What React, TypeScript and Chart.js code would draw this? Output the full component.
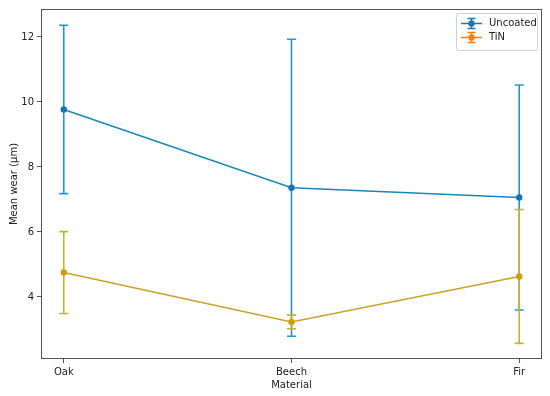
import React, { useEffect, useRef } from 'react';
import { Chart, registerables } from 'chart.js';

Chart.register(...registerables);

const categories = ['Oak', 'Beech', 'Fir'];
const seriesNames = ['Uncoated', 'TiN'];
const uncoatedMean = [9.77, 7.36, 7.06];
const uncoatedErr = [2.59, 4.57, 3.46];
const tinMean = [4.75, 3.23, 4.63];
const tinErr = [1.26, 0.21, 2.06];
const yTicks = [4, 6, 8, 10, 12];

const FONT = "'DejaVu Sans', sans-serif";

const styles = {
  uncoated: { line: '#1a88b6', err: '#2596c4', point: '#1a72b6', legend: '#1f77b4' },
  tin: { line: '#c9a227', err: '#c2b237', point: '#c9a012', legend: '#ff7f0e' },
};

const errorBarPlugin = {
  id: 'errbars',
  beforeDatasetsDraw(chart: any) {
    const { ctx, scales } = chart;
    const x = scales.x, y = scales.y;
    const draw = (means: number[], errs: number[], color: string) => {
      ctx.save();
      ctx.strokeStyle = color;
      ctx.lineWidth = 1.6;
      means.forEach((m, i) => {
        const px = x.getPixelForValue(i);
        const top = y.getPixelForValue(m + errs[i]);
        const bot = y.getPixelForValue(m - errs[i]);
        ctx.beginPath();
        ctx.moveTo(px, top);
        ctx.lineTo(px, bot);
        ctx.moveTo(px - 4.5, top);
        ctx.lineTo(px + 4.5, top);
        ctx.moveTo(px - 4.5, bot);
        ctx.lineTo(px + 4.5, bot);
        ctx.stroke();
      });
      ctx.restore();
    };
    draw(uncoatedMean, uncoatedErr, styles.uncoated.err);
    draw(tinMean, tinErr, styles.tin.err);
  },
  afterDraw(chart: any) {
    const { ctx, chartArea } = chart;
    ctx.save();
    ctx.strokeStyle = '#555';
    ctx.lineWidth = 1;
    ctx.strokeRect(
      Math.round(chartArea.left) + 0.5,
      Math.round(chartArea.top) + 0.5,
      Math.round(chartArea.right - chartArea.left) - 1,
      Math.round(chartArea.bottom - chartArea.top) - 1
    );
    // legend
    const bx = 456.5, by = 13.5, bw = 81, bh = 37;
    ctx.fillStyle = 'rgba(255,255,255,0.9)';
    ctx.strokeStyle = '#d0d0d0';
    ctx.beginPath();
    (ctx as any).roundRect ? ctx.roundRect(bx, by, bw, bh, 2) : ctx.rect(bx, by, bw, bh);
    ctx.fill();
    ctx.stroke();
    const entries = [
      { name: seriesNames[0], color: styles.uncoated.legend },
      { name: seriesNames[1], color: styles.tin.legend },
    ];
    entries.forEach((e, i) => {
      const cy = 23.5 + i * 14;
      const x0 = 461, x1 = 482, xm = 471.5;
      ctx.strokeStyle = e.color;
      ctx.lineWidth = 1.5;
      ctx.beginPath();
      ctx.moveTo(x0, cy);
      ctx.lineTo(x1, cy);
      ctx.moveTo(xm, cy - 5);
      ctx.lineTo(xm, cy + 5);
      ctx.moveTo(xm - 4, cy - 5);
      ctx.lineTo(xm + 4, cy - 5);
      ctx.moveTo(xm - 4, cy + 5);
      ctx.lineTo(xm + 4, cy + 5);
      ctx.stroke();
      ctx.fillStyle = e.color;
      ctx.beginPath();
      ctx.arc(xm, cy, 3.2, 0, Math.PI * 2);
      ctx.fill();
      ctx.fillStyle = '#222';
      ctx.font = `10px ${FONT}`;
      ctx.textBaseline = 'middle';
      ctx.textAlign = 'left';
      ctx.fillText(e.name, 489, cy);
    });
    ctx.restore();
  },
};

export default function App() {
  const ref = useRef<HTMLCanvasElement>(null);
  useEffect(() => {
    if (!ref.current) return;
    const chart = new Chart(ref.current, {
      type: 'line',
      data: {
        datasets: [
          {
            label: seriesNames[0],
            data: uncoatedMean.map((v, i) => ({ x: i, y: v })),
            borderColor: styles.uncoated.line,
            backgroundColor: styles.uncoated.point,
            pointBackgroundColor: styles.uncoated.point,
            pointBorderColor: styles.uncoated.point,
            pointRadius: 3.2,
            pointBorderWidth: 0,
            borderWidth: 1.5,
            tension: 0,
          },
          {
            label: seriesNames[1],
            data: tinMean.map((v, i) => ({ x: i, y: v })),
            borderColor: styles.tin.line,
            backgroundColor: styles.tin.point,
            pointBackgroundColor: styles.tin.point,
            pointBorderColor: styles.tin.point,
            pointRadius: 3.2,
            pointBorderWidth: 0,
            borderWidth: 1.5,
            tension: 0,
          },
        ],
      },
      options: {
        responsive: false,
        animation: false,
        events: [],
        layout: { padding: { top: 9, right: 8, left: 0, bottom: 0 } },
        plugins: { legend: { display: false }, tooltip: { enabled: false } },
        scales: {
          x: {
            type: 'linear',
            min: -0.1,
            max: 2.1,
            afterBuildTicks: (s: any) => {
              s.ticks = categories.map((_, i) => ({ value: i }));
            },
            afterFit: (s: any) => {
              s.height = 37;
            },
            ticks: {
              callback: (v: any) => categories[Math.round(Number(v))] ?? '',
              color: '#222',
              font: { family: FONT, size: 10 },
              padding: 3,
              maxRotation: 0,
            },
            grid: { drawOnChartArea: false, drawTicks: true, tickLength: 4, color: '#555' },
            border: { display: false },
            title: {
              display: true,
              text: 'Material',
              color: '#222',
              font: { family: FONT, size: 10 },
              padding: { top: 0, bottom: 5 },
            },
          },
          y: {
            type: 'linear',
            min: 2.09,
            max: 12.86,
            afterBuildTicks: (s: any) => {
              s.ticks = yTicks.map((v) => ({ value: v }));
            },
            afterFit: (s: any) => {
              s.width = 41;
            },
            ticks: {
              color: '#222',
              font: { family: FONT, size: 10 },
              padding: 3,
            },
            grid: { drawOnChartArea: false, drawTicks: true, tickLength: 4, color: '#555' },
            border: { display: false },
            title: {
              display: true,
              text: 'Mean wear (µm)',
              color: '#222',
              font: { family: FONT, size: 10 },
              padding: { top: 8, bottom: 0 },
            },
          },
        },
      },
      plugins: [errorBarPlugin],
    } as any);
    return () => chart.destroy();
  }, []);
  return (
    <div style={{ position: 'absolute', left: 0, top: 0, width: 550, height: 396, background: '#fff' }}>
      <canvas ref={ref} width={550} height={396} />
    </div>
  );
}
